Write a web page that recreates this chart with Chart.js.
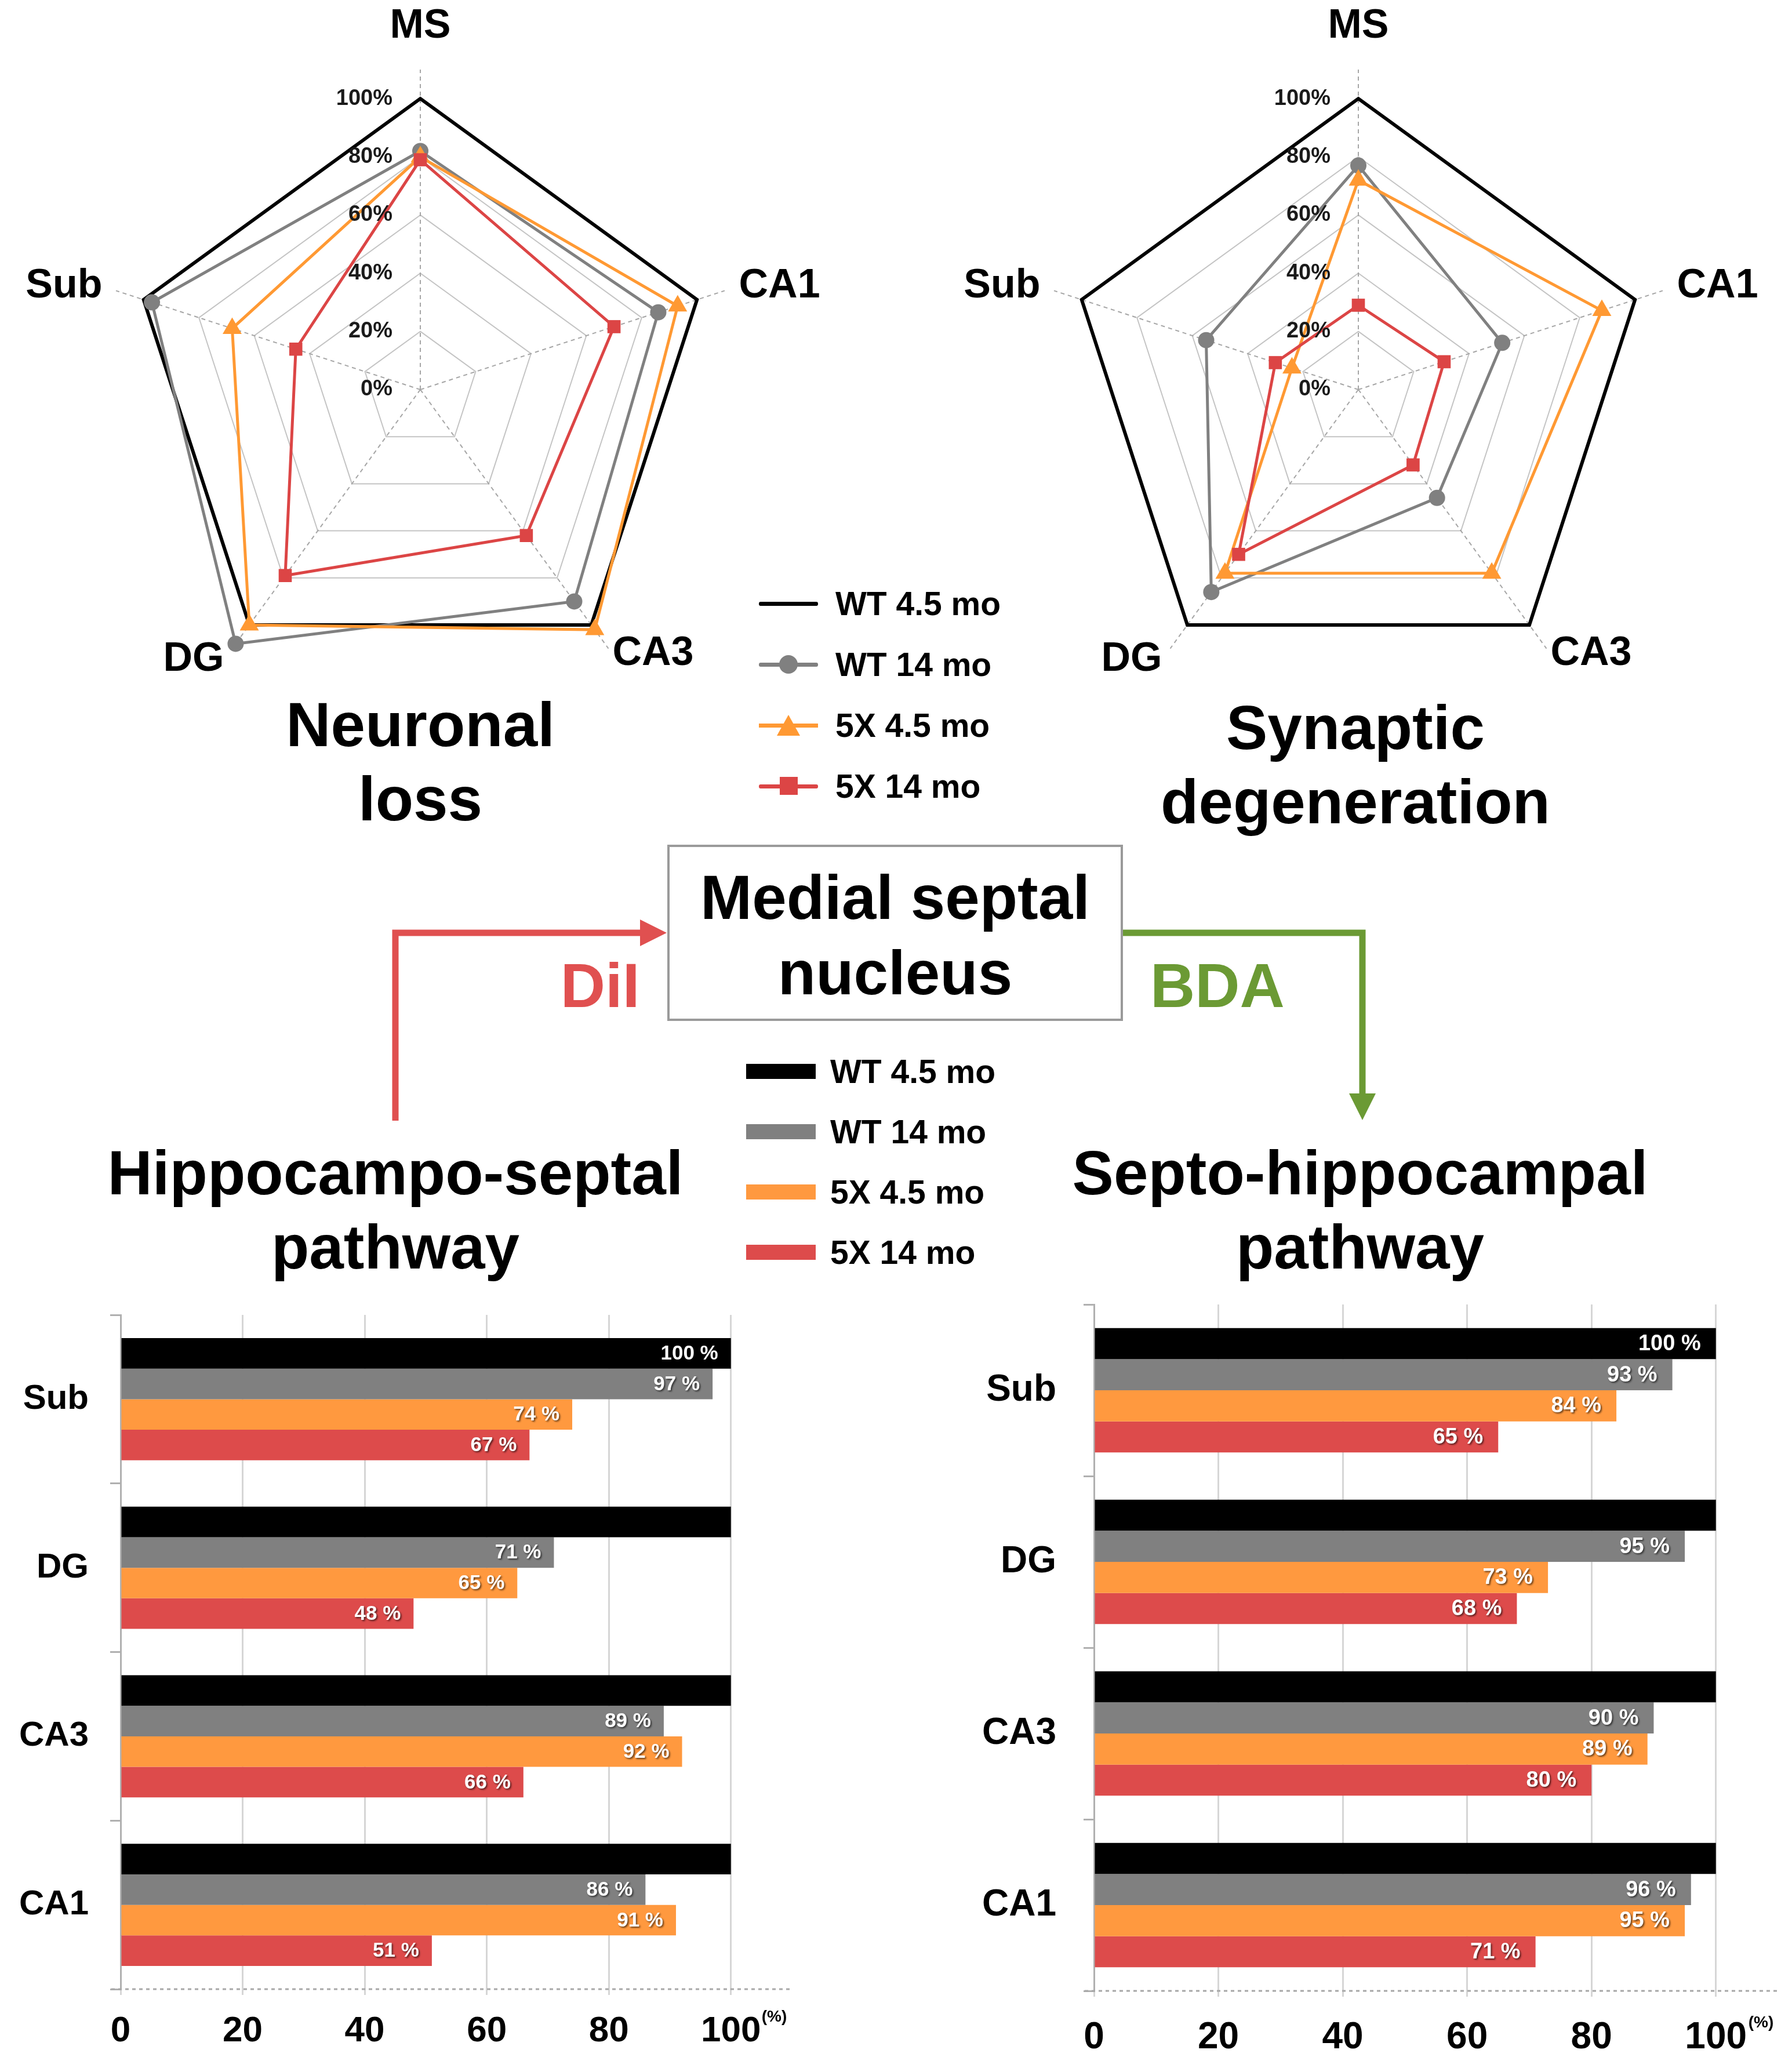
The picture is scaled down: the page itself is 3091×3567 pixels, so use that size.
<!DOCTYPE html>
<html>
<head>
<meta charset="utf-8">
<script src="https://cdn.jsdelivr.net/npm/chart.js@4.4.1/dist/chart.umd.min.js"></script>
<style>
  html, body { margin: 0; padding: 0; background: #fff; width: 3091px; height: 3567px; overflow: hidden; }
  body { position: relative; font-family: "Liberation Sans", Arial, sans-serif; font-weight: bold; color: #000; }
  .abs { position: absolute; }
  .title { position: absolute; width: 1300px; font-size: 107px; line-height: 128px; text-align: center; white-space: nowrap; }
  .legend { position: absolute; font-size: 57px; }
  .lrow { display: flex; align-items: center; line-height: 70px; white-space: nowrap; }
  .lmark { position: relative; display: inline-block; }
  .lmark i { position: absolute; display: block; }
</style>
</head>
<body>

<!-- radar charts -->
<div class="abs" style="left:0;top:0;width:1450px;height:1250px"><canvas id="neuronalLoss"></canvas></div>
<div class="abs" style="left:1600px;top:0;width:1491px;height:1250px"><canvas id="synapticDegeneration"></canvas></div>

<div class="title" style="left:75px;top:1186px">Neuronal<br>loss</div>
<div class="title" style="left:1688px;top:1191px">Synaptic<br>degeneration</div>

<!-- radar legend -->
<div class="legend" style="left:1309px;top:988px">
  <div class="lrow" style="height:105px">
    <span class="lmark" style="width:102px;height:40px;margin-right:30px">
      <i style="left:0;right:0;top:17px;height:7px;background:#000;border-radius:3px"></i>
    </span>WT 4.5 mo</div>
  <div class="lrow" style="height:105px">
    <span class="lmark" style="width:102px;height:40px;margin-right:30px">
      <i style="left:0;right:0;top:17px;height:7px;background:#808080;border-radius:3px"></i>
      <i style="left:35px;top:4px;width:32px;height:32px;border-radius:50%;background:#808080"></i>
    </span>WT 14 mo</div>
  <div class="lrow" style="height:105px">
    <span class="lmark" style="width:102px;height:40px;margin-right:30px">
      <i style="left:0;right:0;top:17px;height:7px;background:#ff9933"></i>
      <i style="left:31px;top:2px;width:0;height:0;border-left:20px solid transparent;border-right:20px solid transparent;border-bottom:36px solid #ff9933"></i>
    </span>5X 4.5 mo</div>
  <div class="lrow" style="height:105px">
    <span class="lmark" style="width:102px;height:40px;margin-right:30px">
      <i style="left:0;right:0;top:17px;height:7px;background:#dc4545;border-radius:3px"></i>
      <i style="left:36px;top:4px;width:31px;height:31px;background:#dc4545"></i>
    </span>5X 14 mo</div>
</div>

<!-- central diagram -->
<div class="abs" style="left:1151px;top:1457px;width:786px;height:304px;border:4px solid #9a9a9a;box-sizing:border-box"></div>
<div class="title" style="left:894px;top:1483px;line-height:130px">Medial septal<br>nucleus</div>
<svg class="abs" style="left:0;top:0" width="3091" height="3567">
  <polyline points="682,1933 682,1609 1112,1609" fill="none" stroke="#e05050" stroke-width="11" stroke-linejoin="miter"/>
  <polygon points="1104,1586 1150,1609 1104,1632" fill="#e05050"/>
  <polyline points="1937,1609 2350,1609 2350,1892" fill="none" stroke="#6b9a34" stroke-width="11" stroke-linejoin="miter"/>
  <polygon points="2327,1886 2373,1886 2350,1932" fill="#6b9a34"/>
</svg>
<div class="title" style="left:385px;top:1636px;color:#e05050">DiI</div>
<div class="title" style="left:1450px;top:1636px;color:#6b9a34">BDA</div>

<div class="title" style="left:32px;top:1959px">Hippocampo-septal<br>pathway</div>
<div class="title" style="left:1696px;top:1959px">Septo-hippocampal<br>pathway</div>

<!-- bar legend -->
<div class="legend" style="left:1287px;top:1796px">
  <div class="lrow" style="height:104px"><span class="lmark" style="width:120px;height:26px;margin-right:25px;background:#000"></span>WT 4.5 mo</div>
  <div class="lrow" style="height:104px"><span class="lmark" style="width:120px;height:26px;margin-right:25px;background:#808080"></span>WT 14 mo</div>
  <div class="lrow" style="height:104px"><span class="lmark" style="width:120px;height:26px;margin-right:25px;background:#ff993f"></span>5X 4.5 mo</div>
  <div class="lrow" style="height:104px"><span class="lmark" style="width:120px;height:26px;margin-right:25px;background:#dd4b4b"></span>5X 14 mo</div>
</div>

<!-- bar charts -->
<div class="abs" style="left:0;top:2230px;width:1440px;height:1337px"><canvas id="hippocampoSeptal"></canvas></div>
<div class="abs" style="left:1650px;top:2210px;width:1441px;height:1357px"><canvas id="septoHippocampal"></canvas></div>

<script>
const SERIES = ['WT 4.5 mo', 'WT 14 mo', '5X 4.5 mo', '5X 14 mo'];

// radar: axes clockwise from top
const REGIONS = ['MS', 'CA1', 'CA3', 'DG', 'Sub'];
const RADAR_TICKS = [0, 20, 40, 60, 80, 100];

// Neuronal loss (%)
const nlWT45 = [100, 100, 100, 100, 100];
const nlWT14 = [82, 86, 90, 108, 97];
const nl5X45 = [80, 93, 102, 100, 68];
const nl5X14 = [79, 70, 62, 79, 45];

// Synaptic degeneration (%)
const sdWT45 = [100, 100, 100, 100, 100];
const sdWT14 = [77, 52, 46, 86, 55];
const sd5X45 = [72, 88, 78, 78, 24];
const sd5X14 = [29, 31, 32, 70, 30];

// bars: top to bottom
const PATHWAY_AREAS = ['Sub', 'DG', 'CA3', 'CA1'];
const X_TICKS = [0, 20, 40, 60, 80, 100];

// Hippocampo-septal pathway (%)
const hsWT45 = [100, 100, 100, 100];
const hsWT14 = [97, 71, 89, 86];
const hs5X45 = [74, 65, 92, 91];
const hs5X14 = [67, 48, 66, 51];

// Septo-hippocampal pathway (%)
const shWT45 = [100, 100, 100, 100];
const shWT14 = [93, 95, 90, 96];
const sh5X45 = [84, 73, 89, 95];
const sh5X14 = [65, 68, 80, 71];

// only the first black bar carries its value
const blackLabelShown = [true, false, false, false];

const COLORS = {
  black: '#000000',
  gray: '#808080',
  orange: '#ff9933',
  red: '#dc4545',
  barOrange: '#ff993f',
  barRed: '#dd4b4b',
};

const FONT = '"Liberation Sans", Arial, sans-serif';
Chart.defaults.font.family = FONT;
Chart.defaults.font.weight = 'bold';
Chart.defaults.color = '#000';

/**
 * Tick percentages left of the MS axis and region names round the pentagon
 */
const radarText = {
  id: 'radarText',
  afterDatasetsDraw(chart, args, opts) {
    const s = chart.scales.r;
    const ctx = chart.ctx;
    ctx.save();
    ctx.fillStyle = '#1a1a1a';
    ctx.font = 'bold 38px ' + FONT;
    ctx.textAlign = 'right';
    ctx.textBaseline = 'middle';
    RADAR_TICKS.forEach(v => {
      ctx.fillText(v + '%', s.xCenter - 48, s.yCenter - s.getDistanceFromCenterForValue(v));
    });

    ctx.fillStyle = '#000';
    ctx.font = 'bold 70px ' + FONT;
    const r100 = s.getDistanceFromCenterForValue(100);
    REGIONS.forEach((name, i) => {
      const p = s.getPointPosition(i, r100 + opts.pad[i]);
      const dx = p.x - s.xCenter;
      ctx.textAlign = Math.abs(dx) < 5 ? 'center' : (dx > 0 ? 'left' : 'right');
      ctx.fillText(name, p.x, p.y);
    });
    ctx.restore();
  },
};

function renderRadar(canvasId, series, padding) {
  const styles = [
    { borderColor: COLORS.black, borderWidth: 6, pointRadius: 0, order: 4 },
    { borderColor: COLORS.gray, pointBackgroundColor: COLORS.gray, pointStyle: 'circle', pointRadius: 14, order: 3 },
    { borderColor: COLORS.orange, pointBackgroundColor: COLORS.orange, pointStyle: 'triangle', pointRadius: 19, order: 2 },
    { borderColor: COLORS.red, pointBackgroundColor: COLORS.red, pointStyle: 'rect', pointRadius: 16, order: 1 },
  ];
  new Chart(document.getElementById(canvasId), {
    type: 'radar',
    data: {
      labels: REGIONS,
      datasets: series.map((data, i) => ({
        label: SERIES[i],
        data,
        fill: false,
        borderWidth: 5,
        pointBorderWidth: 0,
        clip: false,
        ...styles[i],
      })),
    },
    options: {
      responsive: true,
      maintainAspectRatio: false,
      animation: false,
      devicePixelRatio: 1,
      layout: { padding },
      elements: { line: { tension: 0 } },
      plugins: {
        legend: { display: false },
        tooltip: { enabled: false },
        radarText: { pad: [124, 76, 62, 74, 75] },
      },
      scales: {
        r: {
          min: 0,
          max: 110,
          ticks: { display: false, stepSize: 20 },
          pointLabels: { display: false },
          grid: {
            color: c => (c.tick && c.tick.value > 100 ? 'rgba(0,0,0,0)' : '#c4c4c4'),
            lineWidth: 2,
          },
          angleLines: { color: '#a6a6a6', lineWidth: 2, borderDash: [7, 6] },
        },
      },
    },
    plugins: [radarText],
  });
}

/**
 * White values inside bar ends, dashed bottom axis and the (%) unit
 */
const barText = {
  id: 'barText',
  afterDatasetsDraw(chart, args, opts) {
    const ctx = chart.ctx;
    ctx.save();
    ctx.font = 'bold ' + opts.size + 'px ' + FONT;
    ctx.fillStyle = '#fff';
    ctx.textAlign = 'right';
    ctx.textBaseline = 'middle';
    ctx.shadowColor = 'rgba(0,0,0,0.6)';
    ctx.shadowBlur = 3;
    ctx.shadowOffsetX = 2;
    ctx.shadowOffsetY = 2;
    chart.data.datasets.forEach((ds, di) => {
      chart.getDatasetMeta(di).data.forEach((bar, i) => {
        if (di === 0 && !blackLabelShown[i]) return;
        ctx.fillText(ds.data[i] + ' %', bar.x - opts.inset, bar.y + 1);
      });
    });
    ctx.restore();
  },
  afterDraw(chart, args, opts) {
    const ctx = chart.ctx;
    const area = chart.chartArea;
    ctx.save();
    ctx.strokeStyle = '#a8a8a8';
    ctx.lineWidth = 3;
    ctx.setLineDash([6, 6]);
    ctx.beginPath();
    ctx.moveTo(area.left - 16, area.bottom);
    ctx.lineTo(area.right, area.bottom);
    ctx.stroke();
    ctx.setLineDash([]);
    ctx.fillStyle = '#000';
    ctx.font = 'bold 28px ' + FONT;
    ctx.textAlign = 'left';
    ctx.textBaseline = 'middle';
    ctx.fillText('(%)', chart.scales.x.getPixelForValue(100) + opts.unitDx, area.bottom + opts.unitDy);
    ctx.restore();
  },
};

function renderPathway(canvasId, series, cfg) {
  const colors = [COLORS.black, COLORS.gray, COLORS.barOrange, COLORS.barRed];
  new Chart(document.getElementById(canvasId), {
    type: 'bar',
    data: {
      labels: PATHWAY_AREAS,
      datasets: series.map((data, i) => ({
        label: SERIES[i],
        data,
        backgroundColor: colors[i],
        borderWidth: 0,
        categoryPercentage: 0.725,
        barPercentage: 1,
      })),
    },
    options: {
      indexAxis: 'y',
      responsive: true,
      maintainAspectRatio: false,
      animation: false,
      devicePixelRatio: 1,
      layout: { padding: cfg.padding },
      plugins: {
        legend: { display: false },
        tooltip: { enabled: false },
        barText: { size: cfg.valueSize, inset: cfg.inset, unitDx: cfg.unitDx, unitDy: cfg.unitDy },
      },
      scales: {
        x: {
          min: 0,
          max: 110,
          afterBuildTicks: a => { a.ticks = X_TICKS.map(v => ({ value: v })); },
          afterFit: a => { a.height = cfg.xHeight; a.paddingLeft = 0; a.paddingRight = 0; },
          ticks: { font: { size: cfg.tickSize, weight: 'bold' }, color: '#000', padding: cfg.tickPad },
          grid: { color: '#d6d6d6', lineWidth: 3, tickLength: 10 },
          border: { display: false },
        },
        y: {
          afterFit: a => { a.width = cfg.yWidth; a.paddingTop = 0; a.paddingBottom = 0; },
          ticks: { font: { size: cfg.catSize, weight: 'bold' }, color: '#000', padding: cfg.catPad },
          grid: { drawOnChartArea: false, tickLength: 18, color: '#b0b0b0', lineWidth: 3 },
          border: { display: true, color: '#b0b0b0', width: 3 },
        },
      },
    },
    plugins: [barText],
  });
}

renderRadar('neuronalLoss', [nlWT45, nlWT14, nl5X45, nl5X14],
  { left: 173, right: 173, top: 120, bottom: 26 });
renderRadar('synapticDegeneration', [sdWT45, sdWT14, sd5X45, sd5X14],
  { left: 191, right: 196, top: 120, bottom: 26 });

renderPathway('hippocampoSeptal', [hsWT45, hsWT14, hs5X45, hs5X14], {
  padding: { left: 0, right: 74, top: 38, bottom: 0 },
  yWidth: 208, xHeight: 136,
  tickSize: 62, tickPad: 26, catSize: 60, catPad: 37,
  valueSize: 35, inset: 22, unitDx: 53, unitDy: 48,
});
renderPathway('septoHippocampal', [shWT45, shWT14, sh5X45, sh5X14], {
  padding: { left: 0, right: 24, top: 40, bottom: 0 },
  yWidth: 237, xHeight: 133,
  tickSize: 64, tickPad: 33, catSize: 64, catPad: 47,
  valueSize: 38, inset: 26, unitDx: 56, unitDy: 55,
});
</script>
</body>
</html>
